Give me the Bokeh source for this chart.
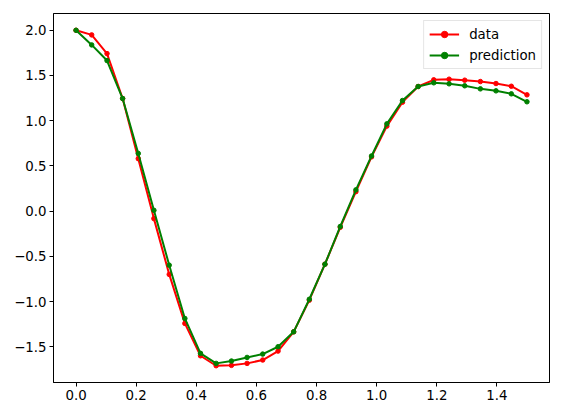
from bokeh.plotting import figure
from bokeh.models import (Range1d, FixedTicker, CustomJSTickFormatter, Legend,
                          LegendItem)
from bokeh.embed import file_html
from bokeh.resources import INLINE

# ---- data ----
x = [0.000, 0.052, 0.103, 0.155, 0.207, 0.259, 0.310, 0.362, 0.414, 0.466,
     0.517, 0.569, 0.621, 0.672, 0.724, 0.776, 0.828, 0.879, 0.931, 0.983,
     1.034, 1.086, 1.138, 1.190, 1.241, 1.293, 1.345, 1.397, 1.448, 1.500]
data = [2.000, 1.949, 1.742, 1.245, 0.580, -0.083, -0.700, -1.242, -1.600, -1.710,
        -1.706, -1.684, -1.647, -1.548, -1.335, -0.985, -0.587, -0.179, 0.215, 0.600,
        0.940, 1.205, 1.378, 1.452, 1.459, 1.448, 1.433, 1.411, 1.381, 1.286]
prediction = [2.000, 1.838, 1.665, 1.245, 0.638, 0.009, -0.598, -1.187, -1.573, -1.684,
              -1.658, -1.618, -1.581, -1.500, -1.335, -0.975, -0.587, -0.170, 0.235, 0.610,
              0.965, 1.223, 1.378, 1.419, 1.408, 1.386, 1.352, 1.330, 1.297, 1.209]
x_ticks = [0.0, 0.2, 0.4, 0.6, 0.8, 1.0, 1.2, 1.4]
y_ticks = [-1.5, -1.0, -0.5, 0.0, 0.5, 1.0, 1.5, 2.0]
labels = ["data", "prediction"]

# matplotlib-like 5% margins
xmin, xmax = min(x), max(x)
ally = data + prediction
ymin, ymax = min(ally), max(ally)
xpad = 0.05 * (xmax - xmin)
ypad = 0.05 * (ymax - ymin)

FONT = "DejaVu Sans"

p = figure(width=562, height=416, output_backend="svg", toolbar_location=None,
           x_range=Range1d(xmin - xpad, xmax + xpad),
           y_range=Range1d(ymin - ypad, ymax + ypad),
           min_border_left=53, min_border_right=13, min_border_top=13,
           min_border_bottom=34)
p.background_fill_color = "white"
p.border_fill_color = "white"
p.outline_line_color = "black"
p.outline_line_width = 1
p.outline_line_alpha = 1
p.xgrid.visible = False
p.ygrid.visible = False

fmt = CustomJSTickFormatter(code="return tick.toFixed(1).replace('-', '\\u2212');")
for ax, ticks in ((p.xaxis[0], x_ticks), (p.yaxis[0], y_ticks)):
    ax.ticker = FixedTicker(ticks=ticks)
    ax.formatter = fmt
    ax.minor_tick_line_color = None
    ax.major_tick_in = 0
    ax.major_tick_out = 4
    ax.major_tick_line_color = "black"
    ax.axis_line_color = "black"
    ax.major_label_text_font = FONT
    ax.major_label_text_font_size = "13.33px"
    ax.major_label_text_color = "black"
    ax.major_label_standoff = 3

r_line = p.line(x, data, line_color="red", line_width=2)
r_dot = p.scatter(x, data, marker="circle", size=4.5, fill_color="red", line_color="red")
g_line = p.line(x, prediction, line_color="green", line_width=2)
g_dot = p.scatter(x, prediction, marker="circle", size=4.5, fill_color="green", line_color="green")

legend = Legend(items=[LegendItem(label=labels[0], renderers=[r_line, r_dot]),
                       LegendItem(label=labels[1], renderers=[g_line, g_dot])],
                location="top_right")
legend.margin = 7
legend.padding = 5
legend.spacing = 5
legend.glyph_width = 30
legend.glyph_height = 16
legend.label_height = 16
legend.label_standoff = 10
legend.label_text_font = FONT
legend.label_text_font_size = "13.33px"
legend.label_text_color = "black"
legend.border_line_color = "#cccccc"
legend.border_line_width = 1
legend.background_fill_color = "white"
legend.background_fill_alpha = 0.8
p.add_layout(legend)

open("out.html", "w").write(file_html(p, INLINE))
